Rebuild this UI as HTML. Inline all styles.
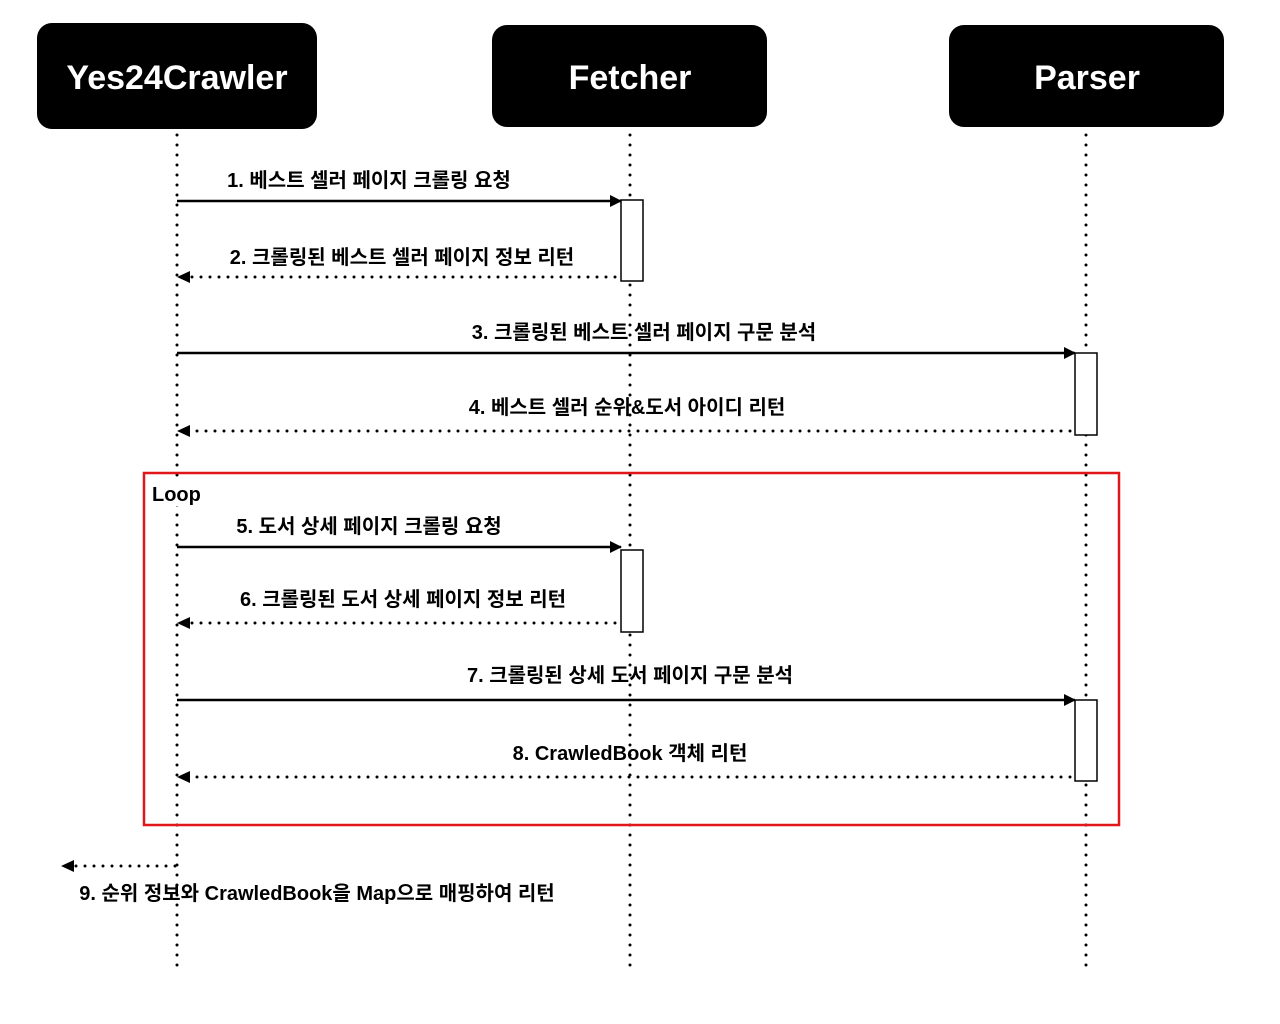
<!DOCTYPE html>
<html><head><meta charset="utf-8"><style>
html,body{margin:0;padding:0;background:#fff;}
svg{display:block;}
text{font-family:"Liberation Sans","Noto Sans CJK KR",sans-serif;}
.t{font-size:20px;font-weight:bold;fill:#000;}
.h{font-size:34px;font-weight:bold;fill:#fff;}
</style></head><body>
<svg width="1280" height="1024" viewBox="0 0 1280 1024" xmlns="http://www.w3.org/2000/svg">
<defs>
<marker id="a" markerWidth="12" markerHeight="12" refX="11" refY="6" orient="auto" markerUnits="userSpaceOnUse">
<path d="M0,0 L12,6 L0,12 Z" fill="#000"/></marker>
</defs>
<rect width="1280" height="1024" fill="#fff"/>
<g stroke="#000" stroke-width="3" stroke-dasharray="0 10" stroke-linecap="round" fill="none">
<line x1="177" y1="135" x2="177" y2="975"/>
<line x1="630" y1="135" x2="630" y2="975"/>
<line x1="1086" y1="135" x2="1086" y2="975"/>
</g>
<rect x="37" y="23" width="280" height="106" rx="15" fill="#000"/>
<rect x="492" y="25" width="275" height="102" rx="15" fill="#000"/>
<rect x="949" y="25" width="275" height="102" rx="15" fill="#000"/>
<text class="h" x="177" y="89" text-anchor="middle">Yes24Crawler</text>
<text class="h" x="630" y="89" text-anchor="middle">Fetcher</text>
<text class="h" x="1087" y="89" text-anchor="middle">Parser</text>

<rect x="144" y="473" width="975" height="352" fill="none" stroke="#e0161b" stroke-width="2.5"/>
<rect x="148" y="480" width="58" height="26" fill="#fff"/>
<text class="t" x="152" y="501">Loop</text>

<rect x="621" y="200" width="22" height="81" fill="#fff" stroke="#000" stroke-width="1.5"/>
<rect x="1075" y="353" width="22" height="82" fill="#fff" stroke="#000" stroke-width="1.5"/>
<rect x="621" y="550" width="22" height="82" fill="#fff" stroke="#000" stroke-width="1.5"/>
<rect x="1075" y="700" width="22" height="81" fill="#fff" stroke="#000" stroke-width="1.5"/>

<g stroke="#000" stroke-width="2.5" fill="none">
<line x1="177" y1="201" x2="621" y2="201" marker-end="url(#a)"/>
<line x1="177" y1="353" x2="1075" y2="353" marker-end="url(#a)"/>
<line x1="177" y1="547" x2="621" y2="547" marker-end="url(#a)"/>
<line x1="177" y1="700" x2="1075" y2="700" marker-end="url(#a)"/>
</g>
<g stroke="#000" stroke-width="3" stroke-dasharray="0 9" stroke-linecap="round" fill="none">
<line x1="615" y1="277" x2="190" y2="277"/>
<line x1="1070" y1="431" x2="190" y2="431"/>
<line x1="615" y1="623" x2="190" y2="623"/>
<line x1="1070" y1="777" x2="190" y2="777"/>
<line x1="175" y1="866" x2="75" y2="866"/>
</g>
<g fill="#000">
<path d="M177,277 L190,271 L190,283 Z"/>
<path d="M177,431 L190,425 L190,437 Z"/>
<path d="M177,623 L190,617 L190,629 Z"/>
<path d="M177,777 L190,771 L190,783 Z"/>
<path d="M61,866 L74,860 L74,872 Z"/>
</g>

<text class="t" x="369" y="187" text-anchor="middle">1. 베스트 셀러 페이지 크롤링 요청</text>
<text class="t" x="402" y="264" text-anchor="middle">2. 크롤링된 베스트 셀러 페이지 정보 리턴</text>
<text class="t" x="644" y="339" text-anchor="middle">3. 크롤링된 베스트 셀러  페이지 구문 분석</text>
<text class="t" x="627" y="414" text-anchor="middle">4. 베스트 셀러 순위&amp;도서 아이디 리턴</text>
<text class="t" x="369" y="533" text-anchor="middle">5. 도서 상세 페이지 크롤링 요청</text>
<text class="t" x="403" y="606" text-anchor="middle">6. 크롤링된 도서 상세 페이지 정보 리턴</text>
<text class="t" x="630" y="682" text-anchor="middle">7. 크롤링된 상세 도서 페이지 구문 분석</text>
<text class="t" x="630" y="760" text-anchor="middle">8. CrawledBook 객체 리턴</text>
<text class="t" x="317" y="900" text-anchor="middle">9. 순위 정보와 CrawledBook을 Map으로 매핑하여 리턴</text>
</svg>
</body></html>
